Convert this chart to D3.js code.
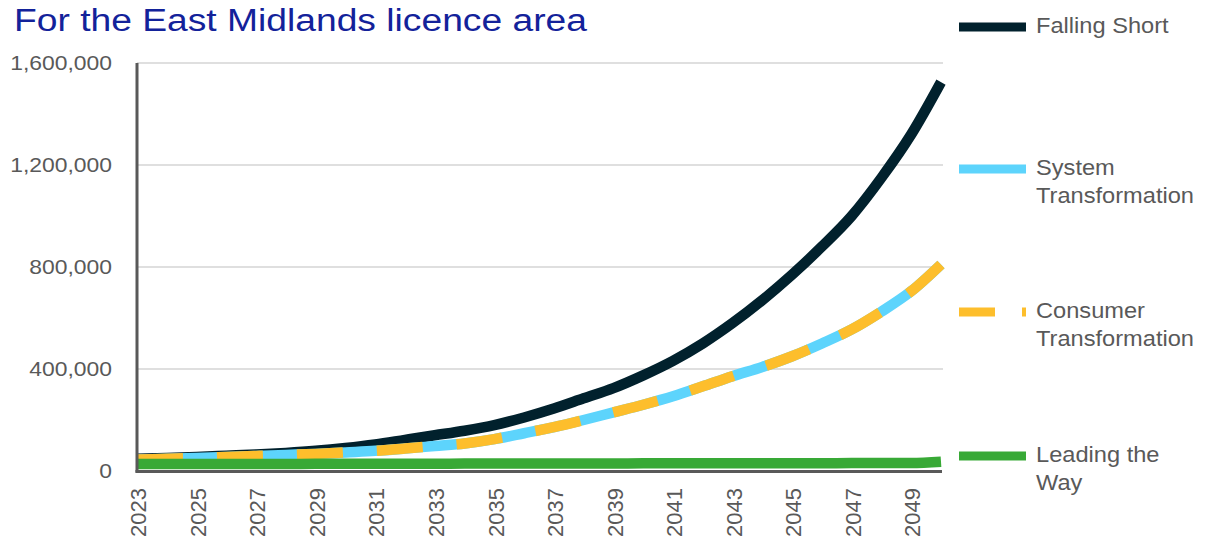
<!DOCTYPE html>
<html>
<head>
<meta charset="utf-8">
<script src="https://cdn.jsdelivr.net/npm/d3@7"></script>
<style>
  html, body { margin: 0; padding: 0; background: #fff; }
  svg { display: block; font-family: "Liberation Sans", Arial, sans-serif; }
</style>
</head>
<body>
<svg id="chart" width="1205" height="536"></svg>
<script>
// Annual values, 2023–2050
const years = d3.range(2023, 2051);

const fallingShort = [48000, 51000, 55000, 60000, 65000, 71000, 79000, 90000, 104000, 122000,
  140000, 158000, 180000, 210000, 245000, 285000, 325000, 375000, 432000, 500000,
  580000, 670000, 770000, 880000, 1000000, 1150000, 1320000, 1525000];

const systemTransformation = [45000, 48000, 51000, 55000, 59000, 63000, 67000, 73000, 79000, 88000,
  98000, 108000, 125000, 148000, 172000, 200000, 230000, 260000, 293000, 332000,
  372000, 408000, 450000, 500000, 555000, 625000, 705000, 810000];

const consumerTransformation = [45000, 48000, 51000, 55000, 59000, 63000, 67000, 73000, 79000, 88000,
  98000, 108000, 125000, 148000, 172000, 200000, 230000, 260000, 293000, 332000,
  372000, 408000, 450000, 500000, 555000, 625000, 705000, 810000];

const leadingTheWay = [27000, 27000, 27000, 27500, 27500, 27500, 28000, 28000, 28000, 28500,
  28500, 29000, 29000, 29000, 29500, 29500, 29500, 30000, 30000, 30000,
  30000, 30500, 30500, 30500, 31000, 31000, 31000, 36000];

const yTicks = [0, 400000, 800000, 1200000, 1600000];
const xTickYears = d3.range(2023, 2051, 2);

const titleText = "For the East Midlands licence area";

const series = [
  { name: ["Falling Short"], values: fallingShort, color: "#01212d", dash: null },
  { name: ["System", "Transformation"], values: systemTransformation, color: "#5dd4fc", dash: null },
  { name: ["Consumer", "Transformation"], values: consumerTransformation, color: "#fdbe2c", dash: "46,34" },
  { name: ["Leading the", "Way"], values: leadingTheWay, color: "#38a936", dash: null }
];

const svg = d3.select("#chart");
const plot = { left: 137, right: 941, top: 63, bottom: 471 };

const x = d3.scalePoint().domain(years).range([plot.left, plot.right]);
const y = d3.scaleLinear().domain([0, 1600000]).range([plot.bottom, plot.top]);

const grey = "#595959";

// stretch a text element horizontally along its own direction
function stretch(sel, k) {
  sel.each(function () {
    const w = this.getComputedTextLength();
    d3.select(this).attr("textLength", w * k).attr("lengthAdjust", "spacingAndGlyphs");
  });
}

// Title
svg.append("text")
  .attr("x", 14).attr("y", 31)
  .attr("font-size", 31)
  .attr("fill", "#13229a")
  .attr("textLength", 573)
  .attr("lengthAdjust", "spacingAndGlyphs")
  .text(titleText);

// Gridlines
svg.append("g")
  .selectAll("line")
  .data(yTicks.filter(d => d > 0))
  .join("line")
  .attr("x1", plot.left).attr("x2", plot.right + 2)
  .attr("y1", d => y(d)).attr("y2", d => y(d))
  .attr("stroke", "#d4d4d4").attr("stroke-width", 1.5);

// Y axis labels
const yAxis = svg.append("g")
  .attr("transform", `translate(${plot.left},0)`)
  .call(d3.axisLeft(y).tickValues(yTicks).tickFormat(d3.format(",")).tickSize(0).tickPadding(25));
yAxis.select(".domain").remove();
yAxis.selectAll("text")
  .attr("font-size", 21)
  .attr("font-family", "Liberation Sans, Arial, sans-serif")
  .attr("fill", grey)
  .call(stretch, 1.09);

// X axis labels (rotated)
const xAxis = svg.append("g")
  .attr("transform", `translate(0,${plot.bottom})`)
  .call(d3.axisBottom(x).tickValues(xTickYears).tickFormat(d3.format("d")).tickSize(0));
xAxis.select(".domain").remove();
xAxis.selectAll("text")
  .attr("font-size", 22)
  .attr("font-family", "Liberation Sans, Arial, sans-serif")
  .attr("fill", grey)
  .attr("text-anchor", "end")
  .attr("transform", "rotate(-90)")
  .attr("x", -17)
  .attr("y", 1)
  .attr("dy", "0.35em");

// Lines
const line = d3.line()
  .x((d, i) => x(years[i]))
  .y(d => y(d))
  .curve(d3.curveMonotoneX);

const lines = svg.append("g");
series.forEach(s => {
  const p = lines.append("path")
    .datum(s.values)
    .attr("d", line)
    .attr("fill", "none")
    .attr("stroke", s.color)
    .attr("stroke-width", 10.5)
    .attr("stroke-linejoin", "round")
    .attr("stroke-linecap", "butt");
  if (s.dash) p.attr("stroke-dasharray", s.dash);
});

// Axis lines
svg.append("line")
  .attr("x1", plot.left).attr("x2", plot.left)
  .attr("y1", plot.top).attr("y2", plot.bottom + 1.5)
  .attr("stroke", grey).attr("stroke-width", 3);
svg.append("line")
  .attr("x1", plot.left - 1.5).attr("x2", plot.right + 1)
  .attr("y1", plot.bottom + 0.5).attr("y2", plot.bottom + 0.5)
  .attr("stroke", grey).attr("stroke-width", 3);

// Legend
const legendRows = [27, 169, 312, 456];
const legend = svg.append("g");
series.forEach((s, i) => {
  const ly = legendRows[i];
  const l = legend.append("line")
    .attr("x1", 959).attr("x2", 1026)
    .attr("y1", ly).attr("y2", ly)
    .attr("stroke", s.color).attr("stroke-width", 9);
  if (s.dash) l.attr("stroke-dasharray", "36,27");
  const t = legend.append("text")
    .attr("x", 1036).attr("y", ly + 6)
    .attr("font-size", 22.5)
    .attr("fill", grey);
  s.name.forEach((n, j) => {
    t.append("tspan").attr("x", 1036).attr("dy", j === 0 ? 0 : 27.5).text(n);
  });
  t.selectAll("tspan").call(stretch, 1.05);
});
</script>
</body>
</html>
